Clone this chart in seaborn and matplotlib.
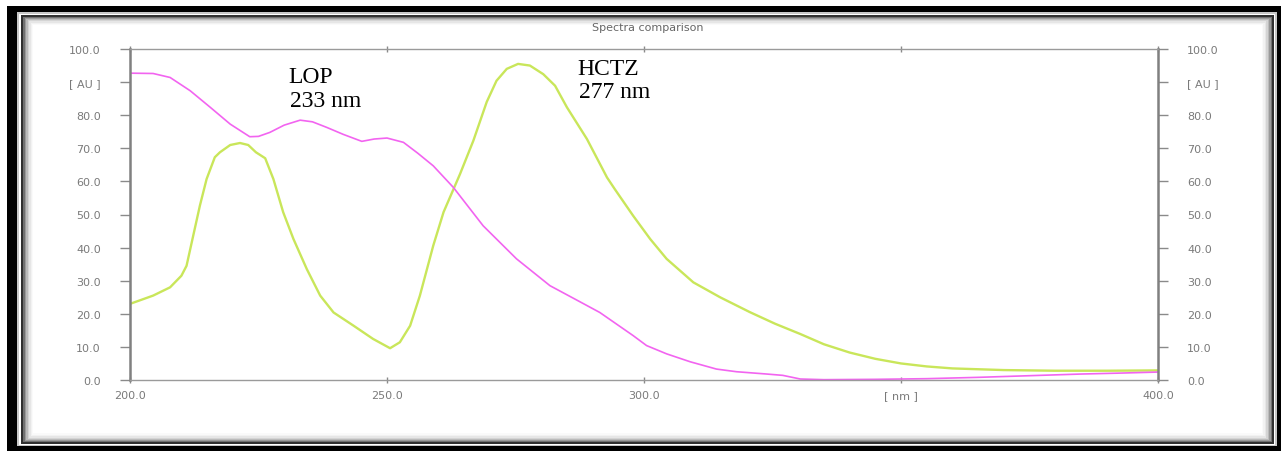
import numpy as np
import pandas as pd
import matplotlib
matplotlib.use("Agg")
import matplotlib.pyplot as plt
from matplotlib.patches import Rectangle
import seaborn as sns

# ---- data ----
lop_nm = [200, 204.5, 207.8, 211.7, 215.6, 219.5, 223.3, 225.0, 227.2, 230.0, 233.1, 235.5,
          238.3, 241.5, 245.1, 247.5, 250.0, 253.2, 256.0, 259.0, 262.9, 268.7, 275.2, 281.7,
          286.5, 291.4, 297.9, 300.5, 304.4, 309.0, 314.1, 318.0, 323.9, 327.0, 330.4, 335,
          345, 355, 365, 375, 385, 393, 400]
lop_au = [92.7, 92.6, 91.4, 87.4, 82.4, 77.3, 73.5, 73.6, 74.8, 77.0, 78.5, 78.0,
          76.3, 74.2, 72.1, 72.8, 73.1, 71.8, 68.5, 64.7, 58.2, 46.6, 36.6, 28.5,
          24.5, 20.4, 13.4, 10.4, 7.9, 5.5, 3.3, 2.5, 1.8, 1.4, 0.3, 0.1,
          0.2, 0.4, 0.8, 1.3, 1.8, 2.1, 2.4]

hctz_nm = [200, 204.5, 207.8, 210.0, 211.0, 212.3, 213.6, 214.9, 216.5, 217.5, 219.5, 221.4,
           223.0, 224.5, 226.3, 227.9, 229.8, 231.8, 234.4, 237.0, 239.6, 243.5, 247.3, 250.6,
           252.5, 254.5, 256.4, 259.0, 261.0, 264.2, 266.8, 269.4, 271.3, 273.3, 275.5, 277.8,
           280.4, 282.7, 285.0, 288.9, 292.8, 294.3, 297.9, 301.2, 304.4, 309.6, 314.8, 320.6,
           325.5, 330.4, 335, 340, 345, 350, 355, 360, 370, 380, 390, 400]
hctz_au = [23.0, 25.5, 28.0, 31.5, 34.5, 43.6, 52.7, 60.7, 67.3, 68.8, 71.0, 71.6,
           71.0, 68.8, 67.0, 60.7, 50.7, 42.6, 33.5, 25.5, 20.4, 16.4, 12.4, 9.6,
           11.4, 16.4, 25.5, 40.6, 50.7, 62.2, 72.3, 84.0, 90.4, 94.0, 95.5, 95.0,
           92.4, 88.9, 82.4, 72.8, 61.2, 57.7, 49.6, 42.6, 36.6, 29.5, 25.0, 20.5,
           17.0, 13.9, 10.8, 8.3, 6.4, 5.0, 4.1, 3.5, 3.0, 2.8, 2.8, 2.9]

y_ticks = [0, 10, 20, 30, 40, 50, 60, 70, 80, 90, 100]
y_labels = ["0.0", "10.0", "20.0", "30.0", "40.0", "50.0", "60.0", "70.0", "80.0", "[ AU ]", "100.0"]
x_ticks = [200, 250, 300, 350, 400]
x_labels = ["200.0", "250.0", "300.0", "[ nm ]", "400.0"]

title = "Spectra comparison"
lop_name, lop_peak = "LOP", "233 nm"
hctz_name, hctz_peak = "HCTZ", "277 nm"

# ---- figure ----
sns.set_style("white")
plt.rcParams['font.family'] = ['DejaVu Sans']

W, H = 1281, 452
fig = plt.figure(figsize=(W / 100, H / 100), dpi=100)
fig.patch.set_facecolor("white")

def rect(x0, y0, x1, y1, **kw):
    r = Rectangle((x0 / W, 1 - y1 / H), (x1 - x0) / W, (y1 - y0) / H,
                  transform=fig.transFigure, **kw)
    fig.add_artist(r)
    return r

# outer black frame with inner double line and soft shadow
rect(7, 7, W, H, facecolor="black", edgecolor="none", zorder=-10)
rect(17, 13, 1277, 447, facecolor="#c8c8c8", edgecolor="none", zorder=-9)
rect(19, 15, 1275, 446, facecolor="white", edgecolor="none", zorder=-8)
rect(21, 16, 1274, 445, facecolor="#303030", edgecolor="none", zorder=-7)
shades = ["#707070", "#9a9a9a", "#bbbbbb", "#d4d4d4", "#e6e6e6", "#f2f2f2", "#fafafa"]
for i, c in enumerate(shades):
    d = 2 + i * 1.5
    rect(21 + d, 16 + d * 0.8, 1274 - d, 445 - d * 0.8, facecolor=c, edgecolor="none",
         zorder=-6 + i * 0.1)
rect(33, 26, 1262, 434, facecolor="white", edgecolor="none", zorder=-5)

ax = fig.add_axes([130 / W, 1 - 381 / H, (1158 - 130) / W, (381 - 50) / H])
ax.set_facecolor("white")

df_lop = pd.DataFrame({"nm": lop_nm, "AU": lop_au})
df_hctz = pd.DataFrame({"nm": hctz_nm, "AU": hctz_au})
sns.lineplot(data=df_hctz, x="nm", y="AU", ax=ax, color="#c9e65a", linewidth=1.7,
             estimator=None, sort=False)
sns.lineplot(data=df_lop, x="nm", y="AU", ax=ax, color="#f264f0", linewidth=1.2,
             estimator=None, sort=False)
for ln in ax.get_lines():
    ln.set_solid_joinstyle("round")

ax.set_xlim(200, 400)
ax.set_ylim(0, 100)
ax.set_xlabel("")
ax.set_ylabel("")

gray = "#8a8a8a"
for side in ["top", "bottom"]:
    ax.spines[side].set_color("#9a9a9a")
    ax.spines[side].set_linewidth(1.0)
for side in ["left", "right"]:
    ax.spines[side].set_color("#808080")
    ax.spines[side].set_linewidth(1.8)
    ax.spines[side].set_visible(True)

ax.set_yticks(y_ticks)
ax.set_yticklabels(y_labels)
ax.set_xticks(x_ticks)
ax.set_xticklabels(x_labels)

ax.tick_params(axis="y", which="both", left=True, right=True, labelleft=True, labelright=True,
               direction="out", length=7, width=1.0, color=gray, pad=14,
               labelsize=8, labelcolor="#7a7a7a")
ax.tick_params(axis="x", which="both", bottom=True, top=True, direction="inout", length=4,
               width=1.0, color=gray, pad=5, labelsize=8, labelcolor="#7a7a7a")

fig.text(648 / W, 1 - 28 / H, title, ha="center", va="center", fontsize=8,
         color="#666666")

serif = ["Liberation Serif", "DejaVu Serif"]
akw = dict(fontsize=17, family=serif, color="black", ha="left", va="baseline")
ax.text(230.8, 90.1, lop_name, **akw)
ax.text(231.1, 82.9, lop_peak, **akw)
ax.text(287.0, 92.4, hctz_name, **akw)
ax.text(287.3, 85.6, hctz_peak, **akw)

fig.savefig("out.png", dpi=100, facecolor=fig.get_facecolor())
